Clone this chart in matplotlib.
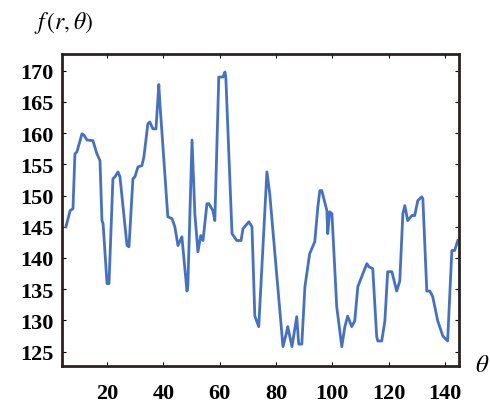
import matplotlib
matplotlib.use("Agg")
import matplotlib.pyplot as plt

# values
theta = [5.4, 6.9, 7.9, 8.6, 9.3, 11.1, 11.8, 12.9, 15.0, 16.4, 17.5, 18.2, 18.6,
         20.0, 20.7, 22.1, 22.8, 23.9, 24.6, 27.1, 27.8, 29.2, 29.9, 31.0, 32.4,
         33.1, 34.5, 35.2, 36.3, 37.4, 38.4, 38.8, 41.6, 43.1, 44.1, 45.2, 46.6,
         48.4, 48.7, 50.2, 51.2, 52.3, 53.3, 54.1, 55.5, 56.2, 57.6, 58.3, 59.7,
         61.2, 61.9, 62.2, 64.4, 66.1, 67.6, 68.3, 70.4, 71.5, 72.5, 73.9, 76.8,
         77.8, 82.5, 83.9, 84.2, 85.7, 87.4, 88.1, 89.2, 90.3, 92.0, 93.8, 94.9,
         95.6, 96.3, 98.1, 98.4, 99.1, 99.9, 101.6, 103.4, 104.5, 105.5, 106.9,
         108.0, 109.1, 110.9, 112.3, 113.0, 114.4, 115.8, 116.2, 117.6, 118.7,
         119.7, 121.2, 122.9, 124.0, 125.1, 125.8, 126.8, 128.3, 129.3, 130.4,
         131.8, 132.2, 133.6, 134.7, 135.7, 137.5, 139.3, 141.0, 142.5, 143.5, 144.6]
f_val = [145.0, 147.6, 147.9, 156.7, 157.0, 159.9, 159.7, 158.9, 158.8, 156.7, 155.6,
         146.0, 145.5, 135.9, 135.9, 152.7, 153.0, 153.8, 153.0, 142.0, 141.8, 152.7,
         153.0, 154.6, 154.8, 156.2, 161.5, 161.8, 160.7, 160.7, 167.8, 164.7, 146.6,
         146.3, 145.0, 142.0, 143.4, 134.7, 135.4, 158.9, 147.1, 141.0, 143.6, 142.8,
         148.7, 148.7, 147.6, 146.0, 169.0, 169.0, 169.8, 169.0, 143.9, 142.8, 142.8,
         144.7, 145.8, 145.0, 130.7, 129.0, 153.8, 150.3, 125.8, 128.3, 129.0, 125.8,
         130.6, 126.2, 126.2, 135.4, 140.7, 142.6, 148.2, 150.8, 150.8, 147.6, 143.9,
         147.4, 147.1, 132.2, 125.8, 129.0, 130.7, 129.0, 129.9, 135.4, 137.5, 139.1,
         138.6, 138.3, 127.4, 126.7, 126.7, 129.9, 137.8, 137.8, 134.7, 136.3, 147.1,
         148.4, 146.0, 146.8, 146.8, 149.2, 149.8, 149.5, 134.7, 134.7, 133.8, 129.9,
         127.5, 126.7, 141.2, 141.2, 142.8]
x_ticks = [20, 40, 60, 80, 100, 120, 140]
y_ticks = [125, 130, 135, 140, 145, 150, 155, 160, 165, 170]

plt.rcParams['font.family'] = ['Liberation Serif', 'DejaVu Serif']

fig = plt.figure(figsize=(4.9, 4.1), dpi=100)
ax = fig.add_axes([0.1265, 0.105, 0.81, 0.761])

ax.plot(theta, f_val, color='#4570c8', lw=2.0)

ax.set_xlim(4, 145)
ax.set_ylim(122.7, 172.7)
ax.set_xticks(x_ticks)
ax.set_yticks(y_ticks)
ax.tick_params(direction='in', length=3, width=0.8, top=True, right=True,
               labelsize=16, pad=12)
ax.tick_params(axis='y', pad=6)
for lab in ax.get_xticklabels() + ax.get_yticklabels():
    lab.set_fontweight('bold')
for s in ax.spines.values():
    s.set_linewidth(2)
    s.set_color('#2a2220')

fig.text(0.07, 0.945, r'$f\,(r,\theta)$', fontsize=17, ha='left', va='center',
         math_fontfamily='stix')
fig.text(0.97, 0.108, r'$\theta$', fontsize=18, ha='left', va='center',
         math_fontfamily='stix')

fig.savefig('out.png', dpi=100)
